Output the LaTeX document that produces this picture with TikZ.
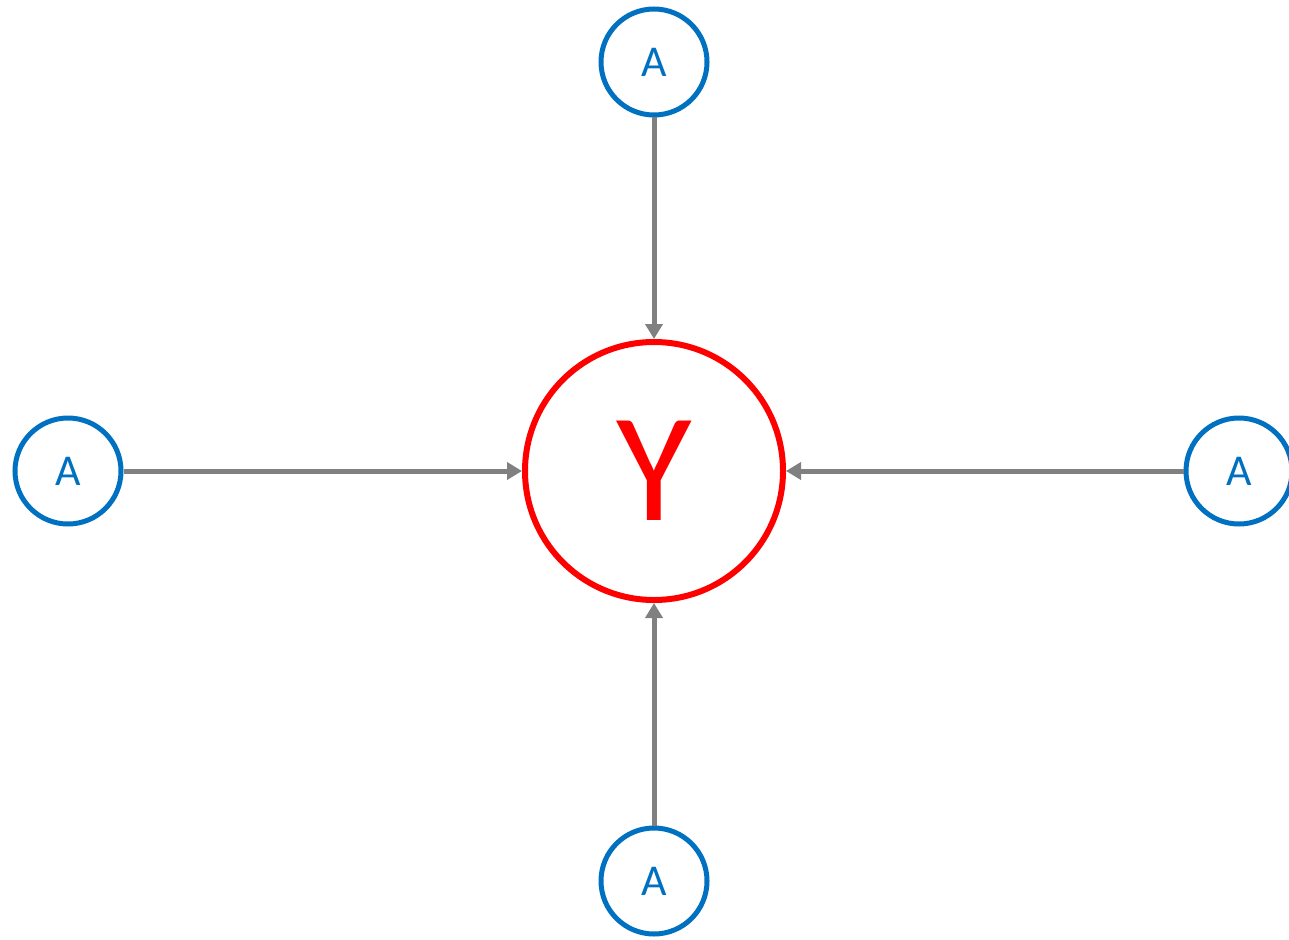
\documentclass[tikz,border=0pt]{standalone}
\usepackage{fontspec}
\setmainfont{Carlito}
\usetikzlibrary{arrows.meta}
\definecolor{ablue}{RGB}{0,112,192}
\definecolor{agray}{RGB}{128,128,128}
\tikzset{
  anode/.style={circle, draw=ablue, line width=5pt, minimum size=106pt, inner sep=0pt, text=ablue, font=\fontsize{44}{44}\selectfont},
  ynode/.style={circle, draw=red, line width=6pt, minimum size=258pt, inner sep=0pt, text=red, font=\fontsize{155}{155}\selectfont},
  conn/.style={draw=agray, line width=5pt, -{Triangle[length=15pt,width=17pt]}}
}
\begin{document}
\begin{tikzpicture}[x=1pt,y=-1pt]
\clip (0,0) rectangle (1289,939);
\useasboundingbox (0,0) rectangle (1289,939);
\node[ynode] (y) at (654,471) {Y};
\node[anode] (t) at (654,62) {A};
\node[anode] (l) at (68,471) {A};
\node[anode] (r) at (1239,471) {A};
\node[anode] (b) at (654,881) {A};
\draw[conn] (t) -- (y);
\draw[conn] (l) -- (y);
\draw[conn] (r) -- (y);
\draw[conn] (b) -- (y);
\end{tikzpicture}
\end{document}
